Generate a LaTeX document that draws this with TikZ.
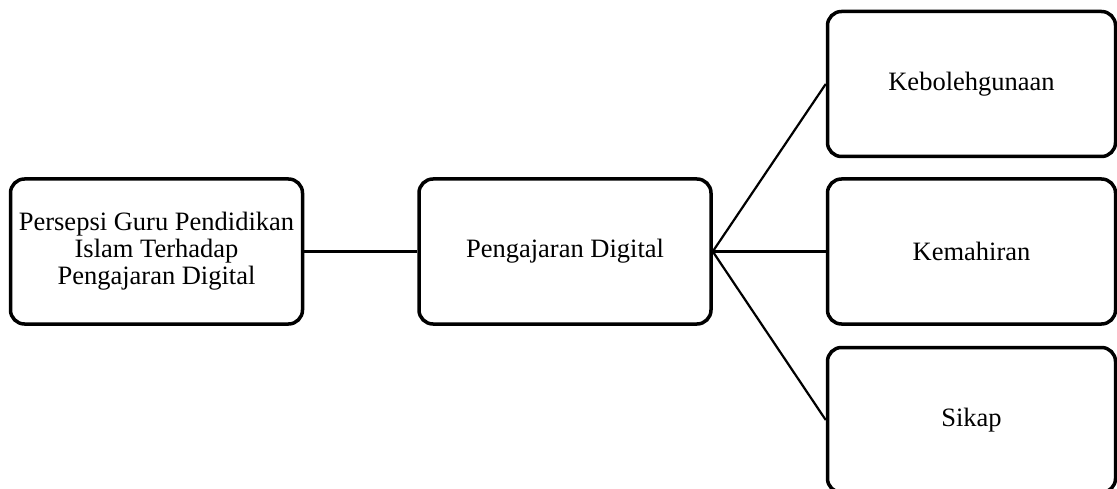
\documentclass[tikz,border=0pt]{standalone}
\usepackage{fontspec}
\setmainfont{Liberation Serif}
\usepackage{tikz}

\begin{document}
\begin{tikzpicture}[x=1pt,y=1pt,
    box/.style={draw,line width=3.5pt,rounded corners=14pt,minimum width=292pt,minimum height=145pt,align=center,inner sep=2pt,font=\fontsize{26.5}{27}\selectfont},
    link/.style={line width=2.2pt}]
    \useasboundingbox (0,0) rectangle (1117,-489);

    % Left and middle boxes
    \node[box] (persepsi) at (156.5,-251.5) {Persepsi Guru Pendidikan\\Islam Terhadap\\Pengajaran Digital};
    \node[box] (pengajaran) at (565,-251.5) {Pengajaran Digital};

    % Right column
    \node[box,minimum width=288pt] (kebolehgunaan) at (971.5,-84) {Kebolehgunaan};
    \node[box,minimum width=288pt] (kemahiran) at (971.5,-251.5) {Kemahiran};
    \node[box,minimum width=288pt] (sikap) at (971.5,-420) {Sikap};

    % Connectors
    \draw[link] (persepsi.east) -- (pengajaran.west);
    \draw[link] (pengajaran.east) -- (kebolehgunaan.west);
    \draw[link] (pengajaran.east) -- (kemahiran.west);
    \draw[link] (pengajaran.east) -- (sikap.west);
\end{tikzpicture}
\end{document}
